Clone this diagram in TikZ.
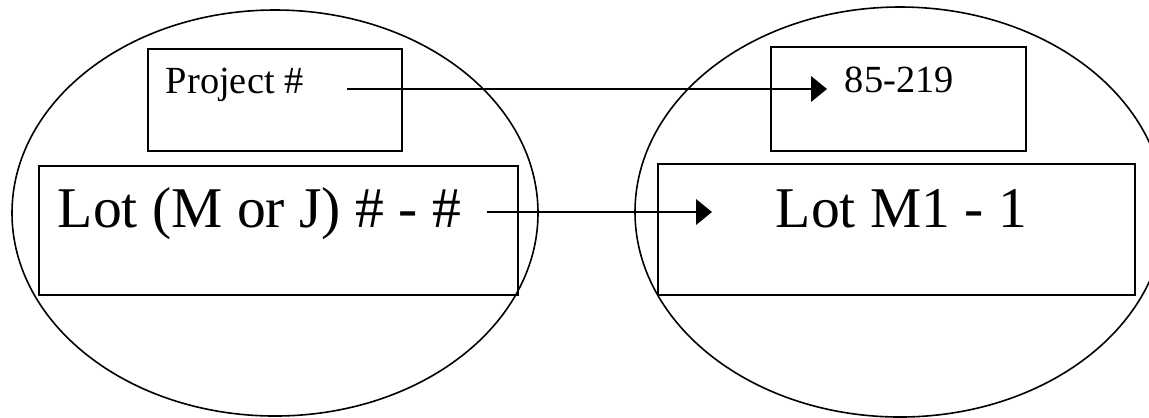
\documentclass[tikz,border=0pt]{standalone}
\usepackage{fontspec}
\setmainfont{Liberation Serif}
\usetikzlibrary{arrows.meta}

\tikzset{
  lbl/.style={anchor=base west, inner sep=0pt, font=\fontsize{12}{14}\selectfont},
  biglbl/.style={anchor=base west, inner sep=0pt, font=\fontsize{18}{21}\selectfont},
  link/.style={-{Triangle[length=5pt,width=8pt]}, line width=0.6pt},
}

\begin{document}
\begin{tikzpicture}[x=0.3125pt,y=-0.3125pt,line width=0.6pt]

  \useasboundingbox (0,0) rectangle (1149,417);
  \clip (0,0) rectangle (1149,417);

  % Conjuntos
  \draw[line width=0.5pt]
    (275,213) ellipse [x radius=263, y radius=203];

  \draw[line width=0.5pt]
    (900,212) ellipse [x radius=265, y radius=205];

  % Cajas
  \draw (148,49) rectangle (402,151);
  \draw (39,166) rectangle (518,295);
  \draw (771,47) rectangle (1026,151);
  \draw (658,164) rectangle (1135,295);

  % Textos
  \node[lbl] (proj) at (165,93) {Project \#};
  \node[lbl] (projval) at (844,92) {85-219};
  \node[biglbl] (lot) at (57,227) {Lot (M or J) \# - \#};
  \node[biglbl] (lotval) at (775,227) {Lot M1 - 1};

  % Flechas
  \coordinate (projout) at (347,89);
  \coordinate (projin) at (827,89);
  \coordinate (lotout) at (487,212);
  \coordinate (lotin) at (712,212);

  \draw[link] (projout) -- (projin);
  \draw[link] (lotout) -- (lotin);

\end{tikzpicture}
\end{document}
